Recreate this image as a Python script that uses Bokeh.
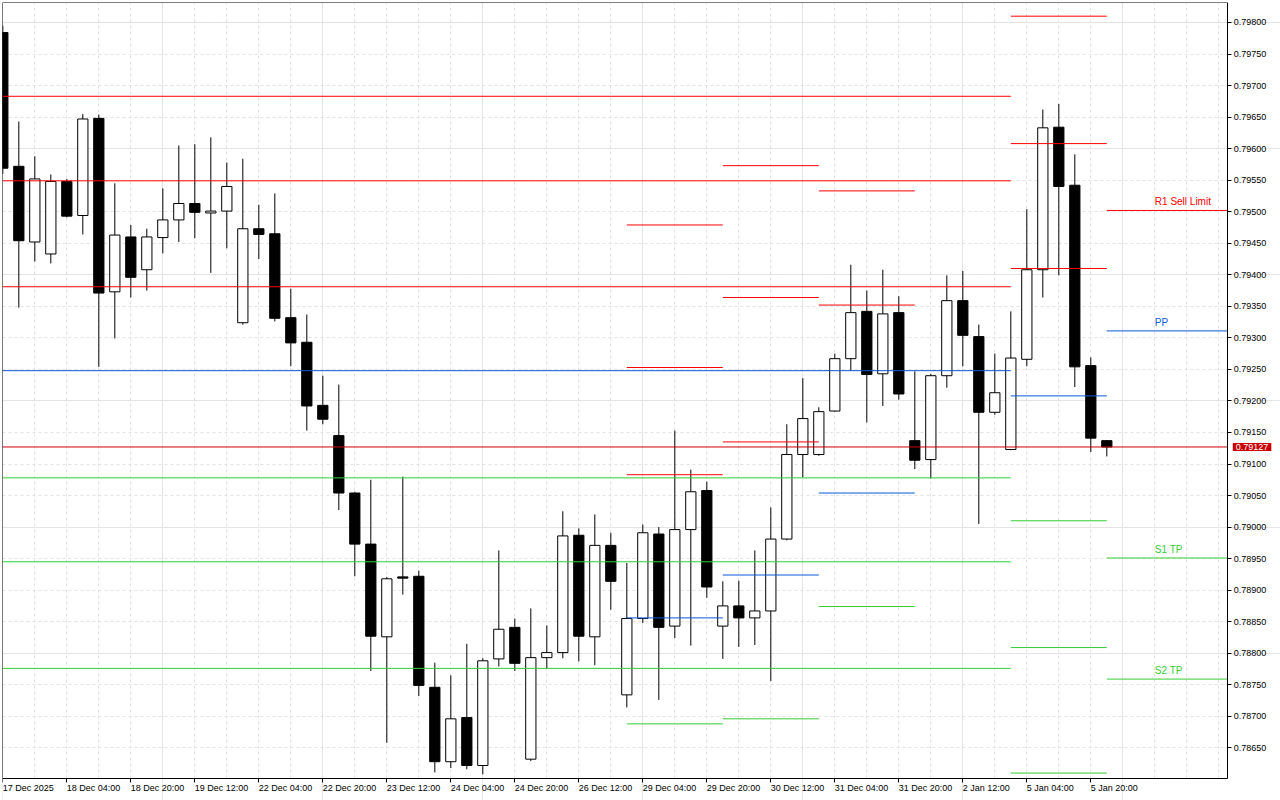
from bokeh.plotting import figure
from bokeh.models import (Range1d, LinearAxis, FixedTicker, ColumnDataSource,
                          PrintfTickFormatter, Grid)
from bokeh.embed import file_html
from bokeh.resources import INLINE
from bokeh.core.properties import value

# ---------------- data ----------------
opens = [0.79784, 0.79572, 0.79452, 0.79433, 0.79548, 0.79494, 0.79648, 0.79373, 0.79460, 0.79408,
         0.79459, 0.79487, 0.79513, 0.79498, 0.79501, 0.79324, 0.79473, 0.79465, 0.79332, 0.79293,
         0.79193, 0.79145, 0.79054, 0.78973, 0.78826, 0.78921, 0.78922, 0.78746, 0.78628, 0.78698,
         0.78622, 0.78791, 0.78841, 0.78632, 0.78793, 0.78801, 0.78987, 0.78826, 0.78971, 0.78734,
         0.78855, 0.78989, 0.78843, 0.78996, 0.79058, 0.78843, 0.78875, 0.78856, 0.78867, 0.78981,
         0.79115, 0.79115, 0.79184, 0.79267, 0.79342, 0.79243, 0.79340, 0.79137, 0.79107, 0.79240,
         0.79359, 0.79302, 0.79182, 0.79123, 0.79266, 0.79408, 0.79634, 0.79542, 0.79256, 0.79137]
highs = [0.79795, 0.79643, 0.79588, 0.79559, 0.79552, 0.79655, 0.79654, 0.79545, 0.79479, 0.79473,
         0.79537, 0.79605, 0.79607, 0.79618, 0.79578, 0.79584, 0.79511, 0.79529, 0.79378, 0.79337,
         0.79240, 0.79226, 0.79056, 0.79075, 0.78921, 0.79080, 0.78931, 0.78785, 0.78765, 0.78815,
         0.78792, 0.78963, 0.78855, 0.78871, 0.78844, 0.79025, 0.78998, 0.79020, 0.78991, 0.78943,
         0.79004, 0.79000, 0.79153, 0.79091, 0.79072, 0.78914, 0.78915, 0.78963, 0.79031, 0.79163,
         0.79236, 0.79190, 0.79275, 0.79416, 0.79375, 0.79408, 0.79366, 0.79247, 0.79243, 0.79399,
         0.79406, 0.79321, 0.79275, 0.79342, 0.79504, 0.79662, 0.79671, 0.79591, 0.79269, 0.79137]
lows = [0.79560, 0.79348, 0.79421, 0.79418, 0.79491, 0.79464, 0.79254, 0.79299, 0.79364, 0.79375,
        0.79434, 0.79452, 0.79458, 0.79403, 0.79442, 0.79321, 0.79425, 0.79326, 0.79255, 0.79153,
        0.79163, 0.79027, 0.78922, 0.78772, 0.78658, 0.78893, 0.78732, 0.78611, 0.78618, 0.78616,
        0.78608, 0.78779, 0.78772, 0.78629, 0.78776, 0.78792, 0.78787, 0.78781, 0.78869, 0.78714,
        0.78848, 0.78726, 0.78824, 0.78812, 0.78888, 0.78791, 0.78810, 0.78813, 0.78756, 0.78979,
        0.79079, 0.79113, 0.79183, 0.79248, 0.79166, 0.79192, 0.79202, 0.79092, 0.79077, 0.79221,
        0.79255, 0.79005, 0.79178, 0.79122, 0.79255, 0.79364, 0.79399, 0.79222, 0.79119, 0.79112]
closes = [0.79569, 0.79454, 0.79552, 0.79548, 0.79493, 0.79647, 0.79371, 0.79463, 0.79396, 0.79460,
          0.79487, 0.79513, 0.79499, 0.79501, 0.79540, 0.79473, 0.79464, 0.79331, 0.79292, 0.79192,
          0.79171, 0.79054, 0.78973, 0.78827, 0.78918, 0.78919, 0.78749, 0.78628, 0.78696, 0.78622,
          0.78788, 0.78838, 0.78784, 0.78793, 0.78801, 0.78986, 0.78827, 0.78971, 0.78914, 0.78855,
          0.78991, 0.78841, 0.78996, 0.79056, 0.78905, 0.78875, 0.78856, 0.78867, 0.78981, 0.79115,
          0.79172, 0.79183, 0.79267, 0.79340, 0.79242, 0.79338, 0.79211, 0.79106, 0.79240, 0.79359,
          0.79304, 0.79182, 0.79213, 0.79268, 0.79408, 0.79633, 0.79540, 0.79254, 0.79141, 0.79127]

time_labels = ["17 Dec 2025", "18 Dec 04:00", "18 Dec 20:00", "19 Dec 12:00", "22 Dec 04:00",
               "22 Dec 20:00", "23 Dec 12:00", "24 Dec 04:00", "24 Dec 20:00", "26 Dec 12:00",
               "29 Dec 04:00", "29 Dec 20:00", "30 Dec 12:00", "31 Dec 04:00", "31 Dec 20:00",
               "2 Jan 12:00", "5 Jan 04:00", "5 Jan 20:00"]
label_bars = [0, 4, 8, 12, 16, 20, 24, 28, 32, 36, 40, 44, 48, 52, 56, 60, 64, 68]

price_ticks = [0.78650, 0.78700, 0.78750, 0.78800, 0.78850, 0.78900, 0.78950, 0.79000, 0.79050,
               0.79100, 0.79150, 0.79200, 0.79250, 0.79300, 0.79350, 0.79400, 0.79450, 0.79500,
               0.79550, 0.79600, 0.79650, 0.79700, 0.79750, 0.79800]

# long pivot lines (start of chart -> bar 63)
long_levels = [0.79683, 0.79549, 0.79381, 0.79248, 0.79078, 0.78945, 0.78776]
long_kinds = ["R", "R", "R", "P", "S", "S", "S"]
long_end_bar = 63

# daily pivot segments
day_start_bars = [39, 45, 51, 63]
day_levels = [[0.79479, 0.79253, 0.79083, 0.78856, 0.78688],
              [0.79573, 0.79364, 0.79135, 0.78924, 0.78696],
              [0.79533, 0.79352, 0.79054, 0.78874],
              [0.79810, 0.79608, 0.79410, 0.79208, 0.79010, 0.78809, 0.78610]]
day_kinds = [["R", "R", "R", "P", "S"],
             ["R", "R", "R", "P", "S"],
             ["R", "R", "P", "S"],
             ["R", "R", "R", "P", "S", "S", "S"]]

# levels of the next day, with their names
next_start_bar = 69
next_levels = [0.79502, 0.79311, 0.78951, 0.78759]
next_kinds = ["R", "P", "S", "S"]
next_names = ["R1 Sell Limit", "PP", "S1 TP", "S2 TP"]

last_price = 0.79127

# ---------------- styles ----------------
KIND_COLOR = {"R": "#FF0000", "P": "#0A5AD7", "S": "#32CD32"}
FONT = "Liberation Sans"
AXFS = "9px"
X0, XAXIS, X1 = -0.02, 76.56, 79.855
YB, Y0, Y1 = 0.785665, 0.786009, 0.798317

p = figure(width=1280, height=800, output_backend="svg", toolbar_location=None,
           x_range=Range1d(X0, X1), y_range=Range1d(YB, Y1),
           x_axis_location=None, y_axis_location=None,
           min_border_left=2, min_border_top=2, min_border_right=0, min_border_bottom=0)
p.outline_line_color = None
p.background_fill_color = "white"
p.border_fill_color = "white"

# grids
vgrid = Grid(dimension=0, ticker=FixedTicker(ticks=list(range(2, 77, 2))),
             grid_line_color="#E2E2E2", grid_line_dash="3 3", grid_line_width=1)
hgrid = Grid(dimension=1, ticker=FixedTicker(ticks=price_ticks),
             grid_line_color="#E2E2E2", grid_line_dash="3 3", grid_line_width=1)
has_cross = hasattr(Grid, "cross_bounds")
if has_cross:
    hgrid.cross_bounds = (X0, XAXIS)
    vgrid.cross_bounds = (Y0, Y1)
p.add_layout(vgrid)
p.add_layout(hgrid)
if not has_cross:
    p.quad(left=[XAXIS], right=[X1 + 1], bottom=[YB - 1], top=[Y1 + 1],
           fill_color="white", line_color=None)
    p.quad(left=[X0 - 1], right=[X1 + 1], bottom=[YB - 1], top=[Y0],
           fill_color="white", line_color=None)

# price axis, drawn at a fixed place inside the frame
yaxis = LinearAxis(ticker=FixedTicker(ticks=price_ticks), formatter=PrintfTickFormatter(format="%.5f"),
                   fixed_location=XAXIS, bounds=(Y0, Y1),
                   major_tick_out=4, major_tick_in=0, minor_tick_out=0, minor_tick_in=0,
                   axis_line_color="black", major_tick_line_color="black",
                   major_label_text_font=FONT, major_label_text_font_size=AXFS,
                   major_label_text_color="black", major_label_standoff=2)
p.add_layout(yaxis, "right")

# time axis
xaxis = LinearAxis(ticker=FixedTicker(ticks=label_bars), bounds=(X0, XAXIS), fixed_location=Y0,
                   major_label_overrides={b: t for b, t in zip(label_bars, time_labels)},
                   major_tick_out=4, major_tick_in=0, minor_tick_out=0, minor_tick_in=0,
                   axis_line_color="black", major_tick_line_color="black",
                   major_label_text_font=FONT, major_label_text_font_size=AXFS,
                   major_label_text_color="black", major_label_orientation=-1e-6,
                   major_label_standoff=5)
p.add_layout(xaxis, "below")

# frame borders on the left and top
left_border = LinearAxis(ticker=FixedTicker(ticks=[]), fixed_location=X0, bounds=(Y0, Y1),
                         major_tick_out=0, minor_tick_out=0, major_label_text_font_size="0px",
                         axis_line_color="black")
top_border = LinearAxis(ticker=FixedTicker(ticks=[]), fixed_location=Y1, bounds=(X0, XAXIS),
                        major_tick_out=0, minor_tick_out=0, major_label_text_font_size="0px",
                        axis_line_color="black")
p.add_layout(left_border, "left")
p.add_layout(top_border, "above")

# candles
n = len(opens)
idx = list(range(n))
bull = [c >= o for o, c in zip(opens, closes)]
src = ColumnDataSource(dict(
    x=idx, high=highs, low=lows,
    top=[max(o, c) for o, c in zip(opens, closes)],
    bottom=[min(o, c) for o, c in zip(opens, closes)],
    fill=["white" if b else "black" for b in bull]))
p.segment(x0="x", y0="low", x1="x", y1="high", source=src, line_color="black", line_width=1)
p.vbar(x="x", width=0.64, top="top", bottom="bottom", source=src,
       fill_color="fill", line_color="black", line_width=1)

# pivot lines
x0s, x1s, ys, cols = [], [], [], []
for lv, k in zip(long_levels, long_kinds):
    x0s.append(X0); x1s.append(long_end_bar); ys.append(lv); cols.append(KIND_COLOR[k])
for s, lvls, kinds in zip(day_start_bars, day_levels, day_kinds):
    for lv, k in zip(lvls, kinds):
        x0s.append(s); x1s.append(s + 6); ys.append(lv); cols.append(KIND_COLOR[k])
for lv, k in zip(next_levels, next_kinds):
    x0s.append(next_start_bar); x1s.append(XAXIS); ys.append(lv); cols.append(KIND_COLOR[k])
lsrc = ColumnDataSource(dict(x0=x0s, x1=x1s, y=ys, c=cols))
p.segment(x0="x0", y0="y", x1="x1", y1="y", source=lsrc, line_color="c", line_width=1)

# current price line
p.segment(x0=[X0], y0=[last_price], x1=[XAXIS], y1=[last_price], line_color="#CC0000", line_width=1)

# level names
tsrc = ColumnDataSource(dict(x=[72] * len(next_levels), y=next_levels, t=next_names,
                             c=[KIND_COLOR[k] for k in next_kinds]))
p.text(x="x", y="y", text="t", source=tsrc, text_color="c", text_font=value(FONT),
       text_font_size="10px", text_baseline="bottom", text_align="left", y_offset=-3)

# price tag next to the axis
tag_kw = dict(x=[XAXIS], y=[last_price], text=["%.5f" % last_price], text_color="white",
              text_font=value(FONT), text_font_size=AXFS, text_baseline="middle",
              text_align="left", x_offset=5)
try:
    p.text(background_fill_color="#C80000", padding=dict(left=3, right=3, top=1, bottom=1), **tag_kw)
except Exception:
    try:
        p.text(background_fill_color="#C80000", padding=2, **tag_kw)
    except Exception:
        p.text(**tag_kw)

open("out.html", "w").write(file_html(p, INLINE))
